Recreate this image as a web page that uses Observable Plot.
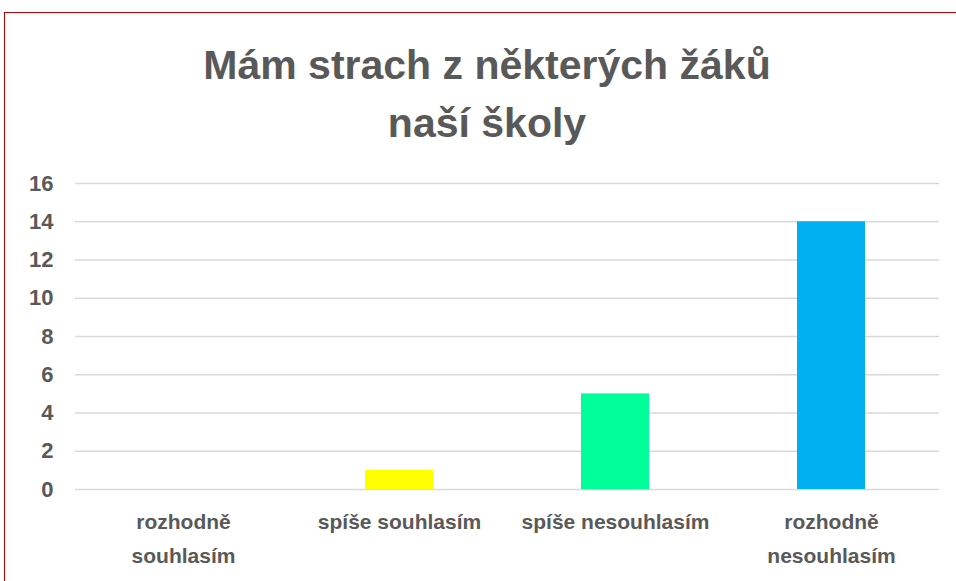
<!DOCTYPE html>
<html>
<head>
<meta charset="utf-8">
<script src="https://cdn.jsdelivr.net/npm/d3@7"></script>
<script src="https://cdn.jsdelivr.net/npm/@observablehq/plot@0.6"></script>
<style>
  html, body { margin: 0; padding: 0; background: #fff; }
  #wrap { position: relative; width: 956px; height: 581px; overflow: hidden; background: #fff; font-family: "Liberation Sans", Arial, sans-serif; }
  #border { position: absolute; left: 4px; top: 12px; width: 1200px; height: 1200px; border: 1.5px solid #C00000; box-sizing: border-box; }
  #title { position: absolute; left: 0; top: 36px; width: 974px; text-align: center; color: #595959; font-weight: bold; font-size: 41px; line-height: 58px; }
  #chart { position: absolute; left: 0; top: 160px; }
</style>
</head>
<body>
<div id="wrap">
  <div id="border"></div>
  <div id="title">Mám strach z některých žáků<br>naší školy</div>
  <div id="chart"></div>
</div>
<script>
const categories = ["rozhodně souhlasím", "spíše souhlasím", "spíše nesouhlasím", "rozhodně nesouhlasím"];
const tickLabels = ["rozhodně\nsouhlasím", "spíše souhlasím", "spíše nesouhlasím", "rozhodně\nnesouhlasím"];
const values = [0, 1, 5, 14];
const colors = ["#00B0F0", "#FFFF00", "#00FF99", "#00B0F0"];
const yTicks = [0, 2, 4, 6, 8, 10, 12, 14, 16];

const data = categories.map((c, i) => ({category: c, value: values[i], color: colors[i]}));

const chart = Plot.plot({
  width: 956,
  height: 421,
  marginTop: 23,
  marginBottom: 92,
  marginLeft: 75,
  marginRight: 17,
  style: {fontFamily: "'Liberation Sans', Arial, sans-serif", color: "#595959", background: "transparent", overflow: "visible"},
  x: {domain: categories, paddingInner: 0.685, paddingOuter: 0.3425, align: 0.5, label: null},
  y: {domain: [0, 16], ticks: yTicks, label: null},
  marks: [
    Plot.gridY(yTicks, {stroke: "#d9d9d9", strokeOpacity: 1, strokeWidth: 1.5}),
    Plot.barY(data, {x: "category", y: "value", fill: "color"}),
    Plot.axisY({ticks: yTicks, tickSize: 0, tickPadding: 22, fontSize: 22, fontWeight: "bold", fill: "#595959", label: null}),
    Plot.axisX({tickSize: 0, tickPadding: 16, fontSize: 21, fontWeight: "bold", fill: "#595959", lineHeight: 1.6, label: null,
      tickFormat: d => tickLabels[categories.indexOf(d)]})
  ]
});
document.getElementById("chart").appendChild(chart);
</script>
</body>
</html>
